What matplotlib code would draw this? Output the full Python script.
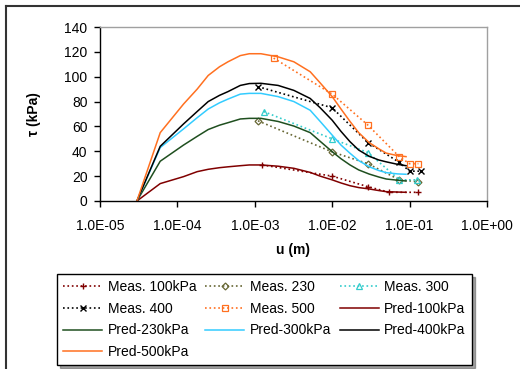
import matplotlib
matplotlib.use("Agg")
import matplotlib.pyplot as plt
from matplotlib.lines import Line2D

plt.rcParams['font.family'] = ['Liberation Sans', 'DejaVu Sans']

# Predicted curves (common displacement grid, m)
u_pred = [3e-5, 6e-5, 1.2e-4, 1.8e-4, 2.5e-4, 3.5e-4, 4.5e-4, 6.5e-4, 8.5e-4, 1.2e-3,
          2e-3, 3.2e-3, 5.2e-3, 7e-3, 1e-2, 1.3e-2, 1.7e-2, 2.2e-2, 3e-2, 4e-2, 5e-2, 7e-2, 9e-2]
pred_100 = [0, 14, 19.6, 23.6, 25.5, 26.8, 27.5, 28.4, 29, 29,
            28, 26.3, 23, 20, 17, 14.5, 12.3, 10.8, 9.7, 8.4, 7.5, 7.2, 7.0]
pred_230 = [0, 32, 45, 52, 57.5, 61, 63, 66, 66.5, 66.5,
            64, 60.3, 55, 48, 39.7, 34, 29, 25, 21.7, 19.3, 17.7, 16.7, 16.1]
pred_300 = [0, 43, 58, 67, 74, 79, 82, 86, 86.6, 86.6,
            84, 80, 73, 64, 53, 45, 38.4, 32.5, 27.6, 24.5, 22.8, 21.8, 21.5]
pred_400 = [0, 44, 62, 72, 80, 85, 88, 93, 94.5, 94.7,
            93, 89, 82.5, 75, 65, 56, 47.7, 41, 36, 33, 31.5, 29.5, 28.4]
pred_500 = [0, 55, 78, 90, 101, 108, 112, 117, 118.5, 118.5,
            116, 112, 104, 95, 84, 74, 64, 55, 47, 42, 38.5, 36.5, 35.7]

# Measured data
u_m100 = [1.25e-3, 1e-2, 2.9e-2, 5.5e-2, 1.3e-1]
t_m100 = [29, 20, 11.5, 7, 7]
u_m230 = [1.1e-3, 1e-2, 2.9e-2, 7.4e-2, 1.3e-1]
t_m230 = [64.5, 39.5, 30, 17, 15.5]
u_m300 = [1.3e-3, 1e-2, 2.9e-2, 7.4e-2, 1.25e-1]
t_m300 = [72, 50, 39, 17, 17]
u_m400 = [1.1e-3, 1e-2, 2.9e-2, 7.4e-2, 1e-1, 1.4e-1]
t_m400 = [92, 75, 47, 31, 24, 24]
u_m500 = [1.75e-3, 1e-2, 2.9e-2, 7.4e-2, 1e-1, 1.3e-1]
t_m500 = [115, 86, 61, 35.5, 30, 30]

xticks = [1e-5, 1e-4, 1e-3, 1e-2, 1e-1, 1e0]
xtick_labels = ["1.0E-05", "1.0E-04", "1.0E-03", "1.0E-02", "1.0E-01", "1.0E+00"]
yticks = [0, 20, 40, 60, 80, 100, 120, 140]

fig = plt.figure(figsize=(5.2, 3.69), dpi=100)
ax = fig.add_axes([0.1923, 0.4553, 0.7442, 0.4715])

c100, c230, c300, c400, c500 = '#800000', '#1F4F1F', '#33CCFF', '#000000', '#FF7020'
cm230, cm300 = '#666633', '#33CCCC'

h = {}
h['m100'], = ax.plot(u_m100, t_m100, ls=':', color=c100, marker='+', ms=5, mew=1, lw=1.2, label='Meas. 100kPa')
h['m230'], = ax.plot(u_m230, t_m230, ls=':', color=cm230, marker='D', ms=3.5, mfc='none', mew=0.9, lw=1.2, label='Meas. 230')
h['m300'], = ax.plot(u_m300, t_m300, ls=':', color=cm300, marker='^', ms=4.5, mfc='none', mew=0.9, lw=1.2, label='Meas. 300')
h['m400'], = ax.plot(u_m400, t_m400, ls=':', color=c400, marker='x', ms=5, mew=1, lw=1.2, label='Meas. 400')
h['m500'], = ax.plot(u_m500, t_m500, ls=':', color=c500, marker='s', ms=4.5, mfc='none', mew=0.9, lw=1.2, label='Meas. 500')
h['p100'], = ax.plot(u_pred, pred_100, color=c100, lw=1.1, label='Pred-100kPa')
h['p230'], = ax.plot(u_pred, pred_230, color=c230, lw=1.1, label='Pred-230kPa')
h['p300'], = ax.plot(u_pred, pred_300, color=c300, lw=1.1, label='Pred-300kPa')
h['p400'], = ax.plot(u_pred, pred_400, color=c400, lw=1.1, label='Pred-400kPa')
h['p500'], = ax.plot(u_pred, pred_500, color=c500, lw=1.1, label='Pred-500kPa')

ax.set_xscale('log')
ax.set_xlim(1e-5, 1e0)
ax.set_ylim(0, 140)
ax.set_xticks(xticks)
ax.set_xticklabels(xtick_labels)
ax.xaxis.set_minor_locator(matplotlib.ticker.NullLocator())
ax.set_yticks(yticks)
ax.tick_params(axis='both', labelsize=10, length=4, width=1, direction='out')
ax.tick_params(axis='x', pad=9)
ax.tick_params(axis='y', pad=5)
for s in ['top', 'right']:
    ax.spines[s].set_color('#A0A0A0')
    ax.spines[s].set_linewidth(1)
for s in ['left', 'bottom']:
    ax.spines[s].set_color('black')
    ax.spines[s].set_linewidth(1)

ax.set_xlabel('u (m)', fontsize=10, fontweight='bold', labelpad=7)
ax.set_ylabel('τ (kPa)', fontsize=10, fontweight='bold', labelpad=17)

order = ['m100', 'm400', 'p230', 'p500', 'm230', 'm500', 'p300', 'm300', 'p100', 'p400']
leg = fig.legend([h[k] for k in order], [h[k].get_label() for k in order],
                 ncol=3, loc='lower left', bbox_to_anchor=(0.1096, 0.010, 0.798, 0.247),
                 mode='expand', fontsize=10, frameon=True, fancybox=False, shadow=True,
                 handlelength=2.8, handletextpad=0.4, labelspacing=0.55, borderpad=0.45,
                 columnspacing=0.6, borderaxespad=0)
leg.get_frame().set_edgecolor('black')
leg.get_frame().set_linewidth(1)

# figure border lines (top and left)
fig.add_artist(Line2D([6/520, 1], [1-6/369, 1-6/369], transform=fig.transFigure, color='#333333', lw=1.5))
fig.add_artist(Line2D([6/520, 6/520], [0, 1-6/369], transform=fig.transFigure, color='#333333', lw=1.5))

fig.savefig('out.png', dpi=100)
